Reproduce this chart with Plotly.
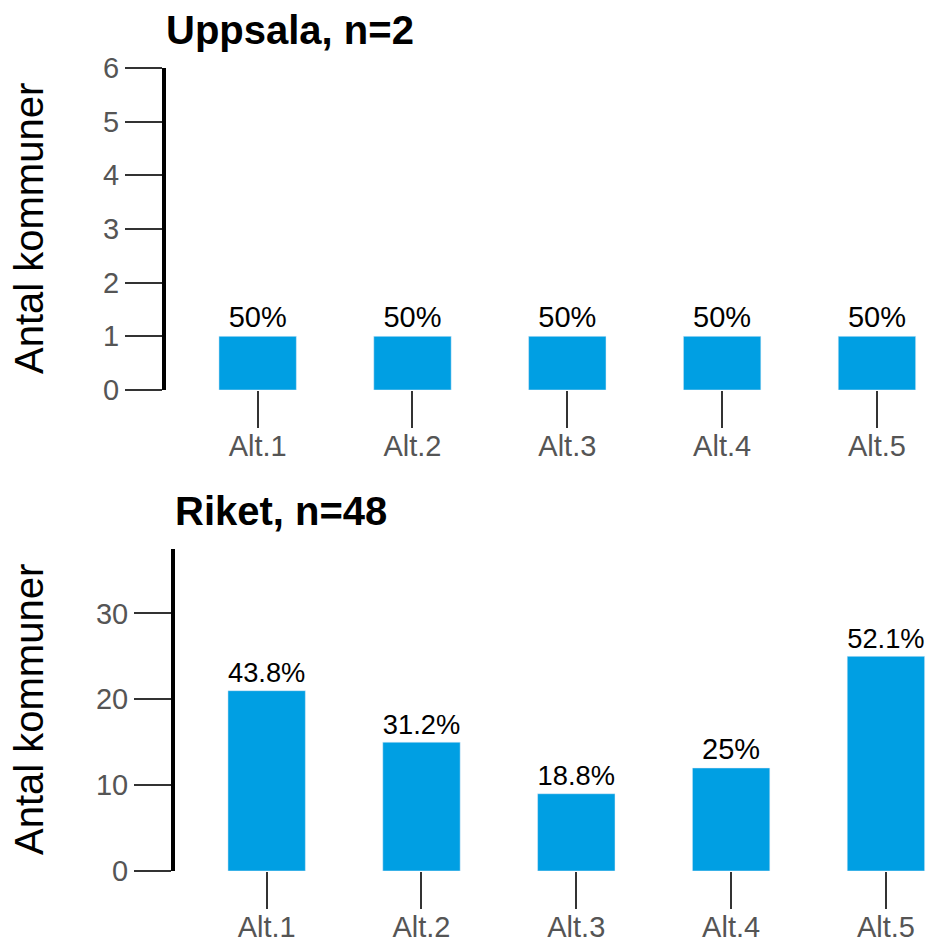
import plotly.graph_objects as go

categories = ["Alt.1", "Alt.2", "Alt.3", "Alt.4", "Alt.5"]
uppsala_counts = [1, 1, 1, 1, 1]
uppsala_pct = ["50%", "50%", "50%", "50%", "50%"]
riket_counts = [21, 15, 9, 12, 25]
riket_pct = ["43.8%", "31.2%", "18.8%", "25%", "52.1%"]
titles = ["Uppsala, n=2", "Riket, n=48"]
y_title = "Antal kommuner"

W, H = 933, 944
BLUE = "#009FE3"
FONT = "Liberation Sans, Arial, sans-serif"

fig = go.Figure()
fig.add_trace(go.Bar(x=categories, y=uppsala_counts, text=uppsala_pct,
                     textposition="outside", marker_color=BLUE, width=0.5,
                     textfont=dict(size=29, color="black", family=FONT),
                     cliponaxis=False, xaxis="x", yaxis="y", showlegend=False))
fig.add_trace(go.Bar(x=categories, y=riket_counts, text=riket_pct,
                     textposition="outside", marker_color=BLUE, width=0.5,
                     textfont=dict(size=29, color="black", family=FONT),
                     cliponaxis=False, xaxis="x2", yaxis="y2", showlegend=False))

# pixel geometry
top_l, bot_l = 166, 175
top_y0, top_y1 = 68, 390
bot_y0, bot_y1 = 549, 871

def xd(px):
    return px / W

def yd(py):
    return 1 - py / H

xcommon = dict(showline=False, ticks="outside", ticklen=37, tickwidth=1.5,
               tickcolor="#333", showgrid=False, zeroline=False,
               ticklabelstandoff=-7,
               tickfont=dict(size=29, color="#555", family=FONT), automargin=False)
ycommon = dict(showline=True, linewidth=4, linecolor="black", ticks="outside",
               ticklen=37, tickwidth=1.5, tickcolor="#333", showgrid=False,
               zeroline=False, tickfont=dict(size=29, color="#555", family=FONT),
               automargin=False)

fig.update_layout(
    width=W, height=H,
    margin=dict(l=0, r=0, t=0, b=0),
    plot_bgcolor="white", paper_bgcolor="white",
    font=dict(family=FONT),
    xaxis=dict(domain=[xd(top_l), 1], anchor="y", range=[-0.592, 4.362], **xcommon),
    yaxis=dict(domain=[yd(top_y1), yd(top_y0)], anchor="x", range=[0, 6], dtick=1, **ycommon),
    xaxis2=dict(domain=[xd(bot_l), 1], anchor="y2", range=[-0.592, 4.304], **xcommon),
    yaxis2=dict(domain=[yd(bot_y1), yd(bot_y0)], anchor="x2", range=[0, 37.5], dtick=10, **ycommon),
    bargap=0.5,
)

fig.add_annotation(text="<b>" + titles[0] + "</b>", xref="paper", yref="paper",
                   x=xd(top_l - 2), y=yd(30), xanchor="left", yanchor="middle",
                   showarrow=False, font=dict(size=40, color="black", family=FONT))
fig.add_annotation(text="<b>" + titles[1] + "</b>", xref="paper", yref="paper",
                   x=xd(bot_l - 2), y=yd(511), xanchor="left", yanchor="middle",
                   showarrow=False, font=dict(size=40, color="black", family=FONT))
for (a, b) in [(top_y0, top_y1), (bot_y0, bot_y1)]:
    fig.add_annotation(text=y_title, xref="paper", yref="paper",
                       x=xd(29), y=yd((a + b) / 2), xanchor="center", yanchor="middle",
                       textangle=-90, showarrow=False,
                       font=dict(size=40, color="black", family=FONT))

fig.write_html("out.html", config={"displayModeBar": False},
               post_script="document.body.style.margin='0';document.body.style.overflow='hidden';")
